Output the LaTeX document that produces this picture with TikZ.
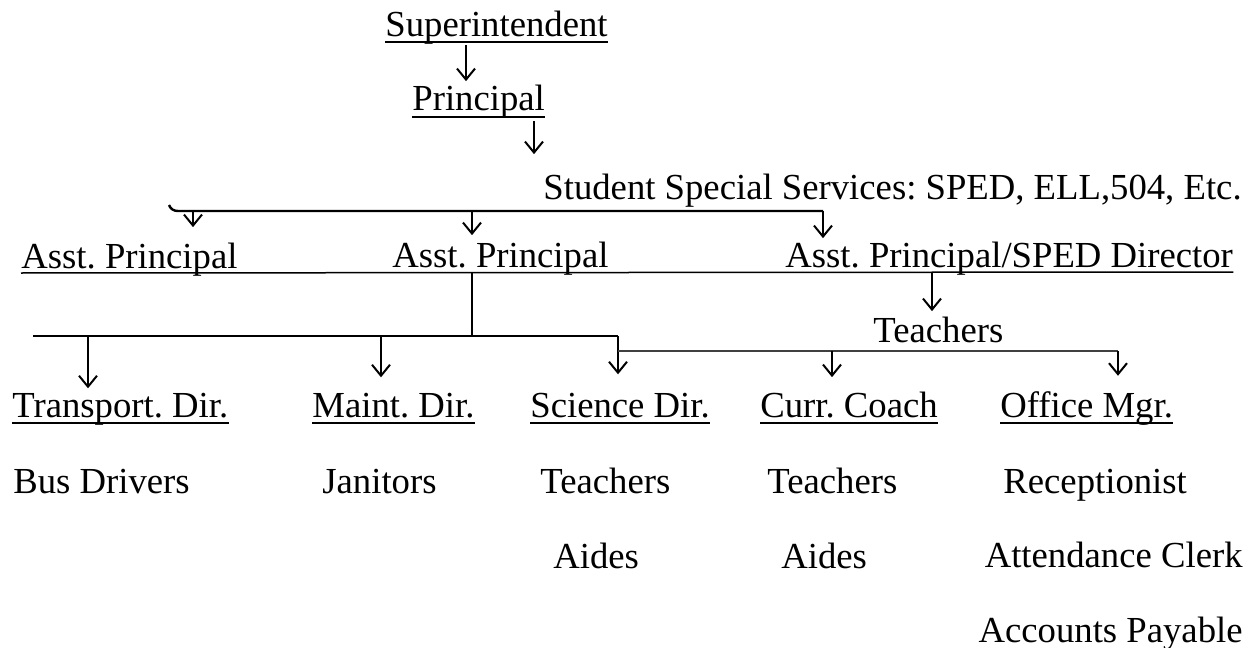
\documentclass[tikz,border=0pt]{standalone}
\usepackage{fontspec}
\setmainfont{Liberation Serif}
\usetikzlibrary{arrows.meta}
\frenchspacing

\tikzset{
  lbl/.style={anchor=base west, inner sep=0pt, font=\fontsize{18.35}{22}\selectfont},
  arr/.style={-{Straight Barb[length=5.5pt,width=9pt]}, line width=1pt, shorten >=#1},
  arr/.default=2.5pt,
  bar/.style={line width=1.2pt},
  thinbar/.style={line width=0.7pt, black!75},
  ulin/.style={line width=0.75pt},
}

\begin{document}
\begin{tikzpicture}[x=0.5pt,y=-0.5pt]
\useasboundingbox (0,0) rectangle (1250,648);

% top of the chain
\node[lbl] (sup) at (385,36) {Superintendent};
\node[lbl] (prin) at (412,111) {Principal};
\node[lbl] (sss) at (543,199) {Student Special Services: SPED, ELL,504, Etc.};

% assistant principals
\node[lbl] (ap1) at (21,268) {Asst. Principal};
\node[lbl] (ap2) at (392,267) {Asst. Principal};
\node[lbl] (ap3) at (785,267) {Asst. Principal/SPED Director};
\node[lbl] (tch) at (873,342) {Teachers};

% directors
\node[lbl] (trd) at (12,417) {Transport. Dir.};
\node[lbl] (mnd) at (312,417) {Maint. Dir.};
\node[lbl] (scd) at (530,417) {Science Dir.};
\node[lbl] (ccd) at (760,417) {Curr. Coach};
\node[lbl] (omg) at (1000,417) {Office Mgr.};

% staff under each director
\node[lbl] (bus) at (13,493) {Bus Drivers};
\node[lbl] (jan) at (322,493) {Janitors};
\node[lbl] (sct) at (540,493) {Teachers};
\node[lbl] (sca) at (553,568) {Aides};
\node[lbl] (cct) at (767,493) {Teachers};
\node[lbl] (cca) at (781,568) {Aides};
\node[lbl] (rec) at (1003,493) {Receptionist};
\node[lbl, anchor=base east] (att) at (1243,567) {Attendance Clerk};
\node[lbl, anchor=base east] (acc) at (1243,642) {Accounts Payable};

% underlines
\foreach \n in {sup,prin,trd,mnd,scd,ccd,omg}
  \draw[ulin] ([yshift=-3pt]\n.base west) -- ([yshift=-3pt]\n.base east);
\draw[ulin] ([yshift=-2.5pt]ap1.base west) -- ([yshift=-2.5pt]ap3.base east);

% junctions
\coordinate (c1) at (466,45);
\coordinate (c2) at (534,121);
\coordinate (bl) at (178,211);
\coordinate (br) at (823,211);
\coordinate (c3) at (932,273);
\coordinate (hub) at (472,336);
\coordinate (ll) at (33,336);
\coordinate (lr) at (618,336);
\coordinate (rl) at (618,351);
\coordinate (rr) at (1118,351);

\draw[arr=2pt] (c1) -- (c1 |- prin.north);
\draw[arr=9.5pt] (c2) -- (c2 |- sss.north);

% branch to the assistant principals
\draw[bar] (169,205) to[out=-70,in=180] (bl) -- (br);
\foreach \x/\n/\g in {193/ap1/7.5pt, 472/ap2/3pt, 823/ap3/1.5pt}
  \draw[arr=\g] (\x,211) -- (\x,211 |- \n.north);
\draw[arr=2.5pt] (c3) -- (c3 |- tch.north);

% branch to the directors
\draw[bar] (472,272) -- (hub);
\draw[bar] (ll) -- (lr);
\foreach \x/\n/\g in {88/trd/2pt, 381/mnd/7.5pt}
  \draw[arr=\g] (\x,336) -- (\x,336 |- \n.north);
\draw[arr=9pt] (lr) -- (lr |- scd.north);
\draw[thinbar] (rl) -- (rr);
\draw[arr=7pt] (832,351) -- (832,351 |- ccd.north);
\draw[arr=7.5pt] (rr) -- (rr |- omg.north);
\end{tikzpicture}
\end{document}
